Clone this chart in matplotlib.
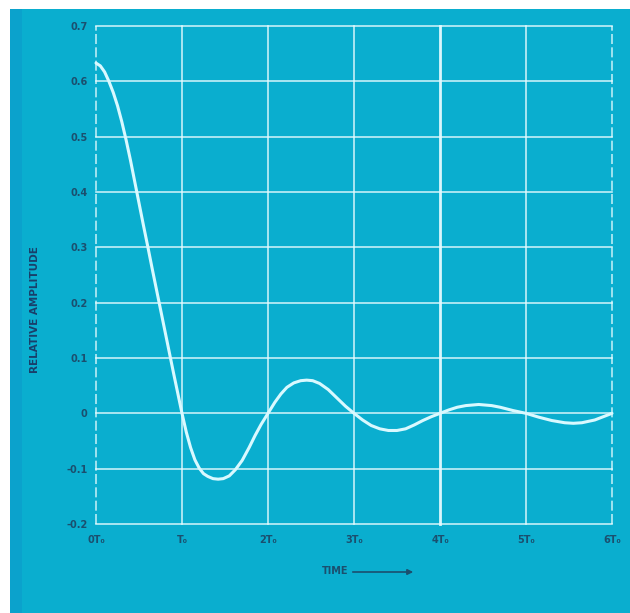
import matplotlib
matplotlib.use("Agg")
import matplotlib.pyplot as plt
from matplotlib.patches import Rectangle, FancyArrowPatch

# Data (time in units of T0, relative amplitude)
t = [0.00, 0.05, 0.10, 0.15, 0.20, 0.25, 0.30, 0.35, 0.40, 0.45, 0.50, 0.55, 0.60,
     0.65, 0.70, 0.75, 0.80, 0.85, 0.90, 0.95, 1.00, 1.05, 1.10, 1.15, 1.20, 1.25,
     1.30, 1.36, 1.42, 1.48, 1.55, 1.62, 1.70, 1.78, 1.85, 1.92, 2.00, 2.08, 2.15,
     2.22, 2.30, 2.38, 2.45, 2.52, 2.60, 2.70, 2.80, 2.90, 3.00, 3.10, 3.20, 3.30,
     3.40, 3.50, 3.60, 3.70, 3.80, 3.90, 4.00, 4.10, 4.20, 4.30, 4.45, 4.60, 4.70,
     4.85, 5.00, 5.15, 5.30, 5.45, 5.55, 5.65, 5.80, 5.90, 6.00]
amp = [0.633, 0.628, 0.617, 0.600, 0.580, 0.556, 0.527, 0.494, 0.458, 0.419, 0.380,
       0.341, 0.303, 0.264, 0.226, 0.188, 0.150, 0.112, 0.074, 0.037, 0.000, -0.034,
       -0.062, -0.084, -0.099, -0.109, -0.114, -0.118, -0.119, -0.118, -0.113,
       -0.102, -0.085, -0.062, -0.040, -0.020, 0.000, 0.020, 0.035, 0.047, 0.055,
       0.059, 0.060, 0.059, 0.054, 0.043, 0.028, 0.013, 0.000, -0.012, -0.022,
       -0.028, -0.031, -0.031, -0.028, -0.021, -0.013, -0.006, 0.000, 0.006, 0.011,
       0.014, 0.016, 0.014, 0.011, 0.005, 0.000, -0.007, -0.013, -0.017, -0.018,
       -0.017, -0.012, -0.006, 0.000]

yticks = [0.7, 0.6, 0.5, 0.4, 0.3, 0.2, 0.1, 0.0, -0.1, -0.2]
yticklabels = ["0.7", "0.6", "0.5", "0.4", "0.3", "0.2", "0.1", "0", "-0.1", "-0.2"]
xticks = [0, 1, 2, 3, 4, 5, 6]
xticklabels = ["0T\u2080", "T\u2080", "2T\u2080", "3T\u2080", "4T\u2080", "5T\u2080", "6T\u2080"]

bg = "#0aaecf"
txt = "#1b4f6e"
grid_c = "#e6fbff"

fig = plt.figure(figsize=(6.30, 6.13), dpi=100)
fig.patch.set_facecolor("white")

# background panel axes (white margin at top/left)
bgax = fig.add_axes([0, 0, 1, 1], zorder=-1)
bgax.set_xlim(0, 630)
bgax.set_ylim(613, 0)
bgax.axis("off")
bgax.add_patch(Rectangle((10, 9), 620, 604, facecolor=bg, edgecolor="none"))
bgax.add_patch(Rectangle((10, 9), 12, 604, facecolor="#0ba2cc", edgecolor="none"))

ax = fig.add_axes([96 / 630, 89 / 613, 516 / 630, 498 / 613], zorder=1)
ax.set_facecolor("none")
ax.set_xlim(0, 6)
ax.set_ylim(-0.2, 0.7)

for y in yticks:
    ax.axhline(y, color=grid_c, lw=1.2, alpha=0.85, zorder=1, clip_on=False)
for x in xticks:
    if x == 0 or x == 6:
        ax.axvline(x, color=grid_c, lw=1.2, alpha=0.8, ls=(0, (6, 2)), zorder=1, clip_on=False)
    elif x == 4:
        ax.axvline(x, color=grid_c, lw=2.0, alpha=0.95, zorder=1, clip_on=False)
    else:
        ax.axvline(x, color=grid_c, lw=1.2, alpha=0.85, zorder=1, clip_on=False)

ax.plot(t, amp, color="#d9f9ff", lw=2.2, solid_capstyle="round",
        solid_joinstyle="round", zorder=3, clip_on=False)

for s in ax.spines.values():
    s.set_visible(False)
ax.set_yticks(yticks)
ax.set_yticklabels(yticklabels)
ax.set_xticks(xticks)
ax.set_xticklabels(xticklabels)
ax.tick_params(length=0, colors=txt, labelsize=7)
ax.tick_params(axis="y", pad=6)
ax.tick_params(axis="x", pad=8)
for lab in ax.get_xticklabels() + ax.get_yticklabels():
    lab.set_fontweight("bold")

fig.text(35 / 630, 1 - 310 / 613, "RELATIVE AMPLITUDE", rotation=90, ha="center",
         va="center", color="#1a3f6a", fontsize=7.5, fontweight="bold")
fig.text(322 / 630, 1 - 571 / 613, "TIME", ha="left", va="center", color=txt,
         fontsize=7, fontweight="bold")
fig.patches.append(FancyArrowPatch(
    (350 / 630, 1 - 572 / 613), (416 / 630, 1 - 572 / 613), transform=fig.transFigure,
    arrowstyle="-|>", mutation_scale=8, color=txt, lw=1.2))

fig.savefig("out.png", dpi=100, facecolor=fig.get_facecolor())
